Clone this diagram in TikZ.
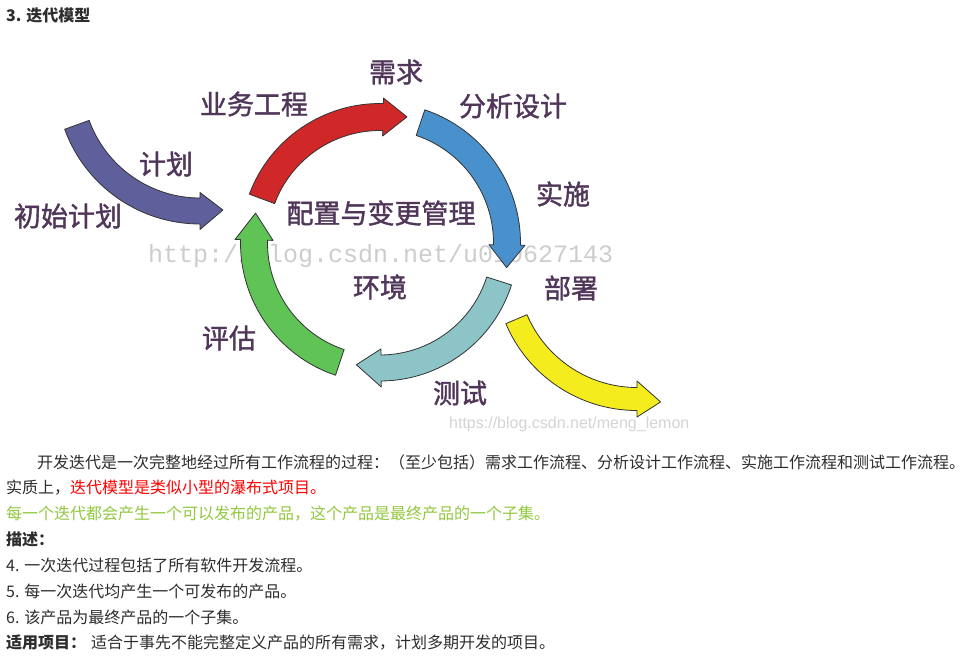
\documentclass[tikz,border=0pt]{standalone}
\usepackage{fontspec}
\setmainfont{Noto Sans CJK SC}
\newfontfamily\labfont[FakeBold=1.4]{Noto Sans CJK SC}
\newfontfamily\wmmono{Liberation Mono}
\newfontfamily\wmsans{Liberation Sans}
\definecolor{lab}{RGB}{80,55,90}
\definecolor{bodyc}{RGB}{45,45,45}
\definecolor{cred}{RGB}{208,40,40}
\definecolor{cblue}{RGB}{72,145,205}
\definecolor{cteal}{RGB}{140,196,200}
\definecolor{cgreen}{RGB}{95,195,85}
\definecolor{cpurple}{RGB}{95,95,155}
\definecolor{cyellow}{RGB}{245,236,30}
\definecolor{redtxt}{RGB}{255,0,0}
\definecolor{greentxt}{RGB}{146,200,62}
\definecolor{wm}{RGB}{205,205,205}
\definecolor{wmb}{RGB}{212,212,212}
\tikzset{
  arrowbody/.style={draw=black!80, line width=0.8pt, line join=round},
  lbl/.style={font=\labfont\fontsize{27}{27}\selectfont, text=lab, inner sep=0pt},
  bodytext/.style={font=\fontsize{16}{16}\selectfont, text=bodyc, inner sep=0pt, anchor=west}
}
% #1 style, #2 centre, #3 radius, #4 half band, #5 half head, #6 start, #7 head base, #8 tip angle, #9 tip radius
\newcommand{\bandarrow}[9]{%
  \begin{scope}[shift={#2}]
    \draw[arrowbody,#1] (#6:#3pt+#4pt) arc[start angle=#6, end angle=#7, radius=#3pt+#4pt]
      -- (#7:#3pt+#5pt) -- (#8:#9pt) -- (#7:#3pt-#5pt) -- (#7:#3pt-#4pt)
      arc[start angle=#7, end angle=#6, radius=#3pt-#4pt] -- cycle;
  \end{scope}}
\begin{document}
\begin{tikzpicture}[x=1pt,y=-1pt]
\useasboundingbox (0,0) rectangle (978,664);
\fill[white] (0,0) rectangle (978,664);

% title
\node[anchor=west, font=\fontsize{16}{16}\selectfont\bfseries, text=bodyc, inner sep=0pt] (title) at (6,15) {3. 迭代模型};

% watermark under the arrows
\node[anchor=base west, inner sep=0pt, font=\wmmono\fontsize{25}{25}\selectfont, text=wm] (wm1) at (148,262) {http://blog.csdn.net/u010627143};

% arrows
\bandarrow{fill=cred}{(380,243)}{126}{13.5}{19}{159.5}{88.6}{77.9}{129}
\bandarrow{fill=cblue}{(380,243)}{127}{13.5}{18}{71.4}{-0.9}{-11}{129}
\bandarrow{fill=cteal}{(380,243)}{125}{13}{19}{-17.7}{-89.5}{-101}{124}
\bandarrow{fill=cgreen}{(380,243)}{126}{13.5}{19}{-108.6}{-181.4}{-193.5}{128}
\bandarrow{fill=cpurple}{(200,80)}{131}{13}{18.5}{200}{270}{280}{132}
\bandarrow{fill=cyellow}{(637,268)}{131}{11.5}{18}{203}{270}{280}{136}

% labels
\node[lbl] (ywgc) at (254,104) {业务工程};
\node[lbl] (xq) at (396,72) {需求};
\node[lbl] (fxsj) at (513,106) {分析设计};
\node[lbl] (ss) at (563,194) {实施};
\node[lbl] (pz) at (381,213) {配置与变更管理};
\node[lbl] (bs) at (571,288) {部署};
\node[lbl] (hj) at (380,287) {环境};
\node[lbl] (pg) at (229,338) {评估};
\node[lbl] (cs) at (460,393) {测试};
\node[lbl] (jh) at (166,164) {计划};
\node[lbl] (csjh) at (68,216) {初始计划};

\node[anchor=base west, inner sep=0pt, font=\wmsans\fontsize{16}{16}\selectfont, text=wmb] (wm2) at (449,428) {https://blog.csdn.net/meng\_lemon};

% body text
\node[bodytext] (l1) at (37,462) {开发迭代是一次完整地经过所有工作流程的过程：（至少包括）需求工作流程、分析设计工作流程、实施工作流程和测试工作流程。};
\node[bodytext] (l2) at (6,488) {实质上，\textcolor{redtxt}{迭代模型是类似小型的瀑布式项目。}};
\node[bodytext, text=greentxt] (l3) at (6,513.6) {每一个迭代都会产生一个可以发布的产品，这个产品是最终产品的一个子集。};
\node[bodytext] (l4) at (6,539.5) {\bfseries 描述：};
\node[bodytext] (l5) at (6,565.5) {4. 一次迭代过程包括了所有软件开发流程。};
\node[bodytext] (l6) at (6,591.5) {5. 每一次迭代均产生一个可发布的产品。};
\node[bodytext] (l7) at (6,617.5) {6. 该产品为最终产品的一个子集。};
\node[bodytext] (l8) at (6,642.5) {{\bfseries 适用项目：}\hspace{5pt}适合于事先不能完整定义产品的所有需求，计划多期开发的项目。};
\end{tikzpicture}
\end{document}
